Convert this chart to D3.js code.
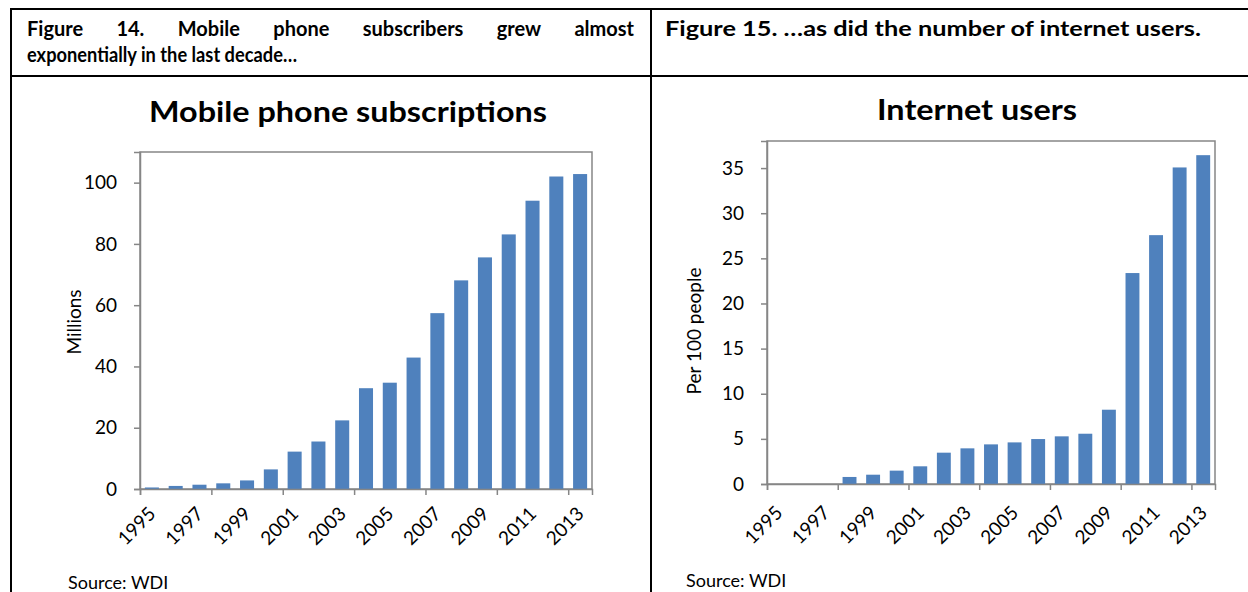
<!DOCTYPE html>
<html>
<head>
<meta charset="utf-8">
<script src="https://cdn.jsdelivr.net/npm/d3@7"></script>
<style>
  html, body { margin: 0; padding: 0; background: #fff; }
  svg { display: block; font-family: Lato, "Open Sans", sans-serif; }
</style>
</head>
<body>
<svg id="page" width="1248" height="592"></svg>
<script>
// Years shown on both charts
const years = ["1995","1996","1997","1998","1999","2000","2001","2002","2003","2004",
               "2005","2006","2007","2008","2009","2010","2011","2012","2013"];
// Mobile phone subscriptions, millions
const mobileSubs = [0.5, 1.0, 1.4, 1.85, 2.8, 6.4, 12.2, 15.5, 22.4, 32.9,
                    34.7, 42.9, 57.4, 68.1, 75.6, 83.1, 94.1, 102.0, 102.8];
// Internet users per 100 people
const internetUsers = [0, 0, 0, 0.78, 1.03, 1.48, 1.96, 3.47, 3.95, 4.39,
                       4.61, 4.98, 5.28, 5.57, 8.23, 23.37, 27.57, 35.07, 36.43];
const mobileTicks = [0, 20, 40, 60, 80, 100];
const internetTicks = [0, 5, 10, 15, 20, 25, 30, 35];
const yearLabels = ["1995","1997","1999","2001","2003","2005","2007","2009","2011","2013"];

const svg = d3.select("#page");
const BAR = "#4f81bd";
const AXIS = "#868686";

// ---- table frame ----
const frame = svg.append("g").attr("stroke", "#000").attr("stroke-width", 2);
frame.append("line").attr("x1", 11).attr("x2", 1248).attr("y1", 9).attr("y2", 9);
frame.append("line").attr("x1", 11).attr("x2", 1248).attr("y1", 76).attr("y2", 76);
frame.append("line").attr("x1", 11).attr("x2", 11).attr("y1", 8).attr("y2", 592);
frame.append("line").attr("x1", 651).attr("x2", 651).attr("y1", 8).attr("y2", 592);

// ---- captions ----
const CAP = 20;
function justified(str, x0, x1, y) {
  const words = str.split(" ");
  const g = svg.append("g");
  const nodes = words.map(w => g.append("text")
    .attr("y", y).attr("font-size", CAP).attr("font-weight", "bold").text(w));
  const widths = nodes.map(n => n.node().getComputedTextLength());
  const total = d3.sum(widths);
  const gap = (x1 - x0 - total) / (words.length - 1);
  let x = x0;
  nodes.forEach((n, i) => { n.attr("x", x); x += widths[i] + gap; });
}
justified("Figure 14. Mobile phone subscribers grew almost", 27, 634, 36);
svg.append("text").attr("x", 27).attr("y", 62).attr("font-size", CAP)
  .attr("font-weight", "bold").attr("textLength", 270).attr("lengthAdjust", "spacingAndGlyphs")
  .text("exponentially in the last decade…");
svg.append("text").attr("x", 665).attr("y", 36).attr("font-size", CAP)
  .attr("font-weight", "bold").attr("textLength", 536).attr("lengthAdjust", "spacingAndGlyphs")
  .text("Figure 15. …as did the number of internet users.");

// ---- bar chart ----
function barChart(o) {
  const g = svg.append("g");
  const x = d3.scaleBand().domain(years).range([o.left, o.right])
    .paddingInner(0.41).paddingOuter(0.205);
  const xi = d3.scaleLinear().domain([0, years.length]).range([o.left, o.right]);
  const y = d3.scaleLinear().domain([0, o.yMax]).range([o.bottom, o.top]);

  // plot area border
  g.append("rect").attr("x", o.left).attr("y", o.top)
    .attr("width", o.right - o.left).attr("height", o.bottom - o.top)
    .attr("fill", "none").attr("stroke", AXIS).attr("stroke-width", 1.5);

  // bars
  g.append("g").selectAll("rect").data(years.map((yr, i) => ({yr, v: o.values[i]})))
    .join("rect")
    .attr("x", d => x(d.yr)).attr("width", x.bandwidth())
    .attr("y", d => y(d.v)).attr("height", d => o.bottom - y(d.v))
    .attr("fill", BAR);

  // y axis
  const ya = g.append("g").attr("transform", `translate(${o.left},0)`)
    .call(d3.axisLeft(y).tickValues(o.ticks).tickSize(6).tickPadding(17).tickFormat(d3.format("d")));
  ya.select(".domain").attr("stroke", AXIS).attr("stroke-width", 1.5);
  ya.selectAll(".tick line").attr("stroke", AXIS).attr("stroke-width", 1.5);
  ya.selectAll(".tick text").attr("font-size", 19).attr("font-family", "Lato").attr("fill", "#000");

  // x axis: tick marks every third category boundary
  const xa = g.append("g").attr("transform", `translate(0,${o.bottom})`)
    .call(d3.axisBottom(xi).tickValues([0, 3, 6, 9, 12, 15, 18]).tickSize(6).tickFormat(""));
  xa.select(".domain").attr("stroke", AXIS).attr("stroke-width", 1.5);
  xa.selectAll(".tick line").attr("stroke", AXIS).attr("stroke-width", 1.5);

  // rotated year labels
  g.append("g").selectAll("text").data(yearLabels).join("text")
    .attr("transform", d => `translate(${x(d) + x.bandwidth() / 2 + 5},${o.bottom + o.labelDy}) rotate(-45)`)
    .attr("text-anchor", "end").attr("font-size", 19).text(d => d);

  // titles
  g.append("text").attr("x", o.titleX).attr("y", o.titleY).attr("text-anchor", "middle")
    .attr("font-size", 28).attr("font-weight", "bold")
    .attr("textLength", o.titleW).attr("lengthAdjust", "spacingAndGlyphs").text(o.title);
  g.append("text").attr("transform", `translate(${o.yTitleX},${o.yTitleY}) rotate(-90)`)
    .attr("text-anchor", "middle").attr("font-size", 19).text(o.yTitle);

  g.append("text").attr("x", o.sourceX).attr("y", o.sourceY).attr("font-size", 18).text("Source: WDI");
}

barChart({
  left: 140, right: 592, top: 152, bottom: 489, yMax: 110,
  values: mobileSubs, ticks: mobileTicks, labelDy: 26,
  title: "Mobile phone subscriptions", titleX: 348, titleY: 122, titleW: 398,
  yTitle: "Millions", yTitleX: 81, yTitleY: 322,
  sourceX: 68, sourceY: 589
});
barChart({
  left: 767, right: 1215, top: 141, bottom: 484, yMax: 38,
  values: internetUsers, ticks: internetTicks, labelDy: 30,
  title: "Internet users", titleX: 977, titleY: 120, titleW: 200,
  yTitle: "Per 100 people", yTitleX: 701, yTitleY: 331,
  sourceX: 686, sourceY: 587
});
</script>
</body>
</html>
